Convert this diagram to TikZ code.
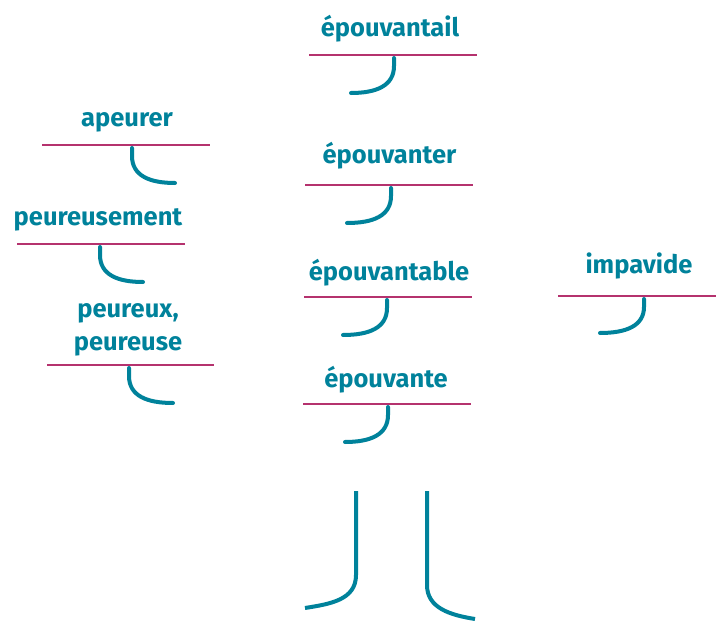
\documentclass[tikz,border=0pt]{standalone}
\usepackage{fontspec}
\setmainfont{Fira Sans}
\definecolor{teal}{RGB}{0,130,155}
\definecolor{mag}{RGB}{181,50,110}
\begin{document}
\begin{tikzpicture}[x=1pt,y=-1pt,
  word/.style={text=teal,font=\fontsize{25.5}{33}\selectfont\bfseries,inner sep=0pt,align=center,anchor=base},
  bar/.style={draw=mag,line width=2pt},
  hook/.style={draw=teal,line width=4pt,line cap=round}]
\useasboundingbox (0,0) rectangle (716,621);
% épouvantail
\node[word] (w1) at (390,36) {épouvantail};
\draw[bar] (309,55) -- (477,55);
\draw[hook] (394,58) -- (394,66) .. controls (394,86) and (376,93) .. (351,93);
% apeurer
\node[word] (w2) at (127,126) {apeurer};
\draw[bar] (42,145) -- (210,145);
\draw[hook] (132,148) -- (132,156) .. controls (132,176) and (150,183) .. (175,183);
% peureusement
\node[word] (w3) at (98,225) {peureusement};
\draw[bar] (17,244) -- (185,244);
\draw[hook] (100,247) -- (100,255) .. controls (100,275) and (118,282) .. (143,282);
% peureux, peureuse
\node[word] (w4) at (128,350) {peureux,\\peureuse};
\draw[bar] (47,365) -- (214,365);
\draw[hook] (129,368) -- (129,376) .. controls (129,396) and (147,403) .. (173,403);
% épouvanter
\node[word] (w5) at (389.5,163) {épouvanter};
\draw[bar] (305,185) -- (473,185);
\draw[hook] (391,188) -- (391,196) .. controls (391,216) and (373,223) .. (347,223);
% épouvantable
\node[word] (w6) at (389,280) {épouvantable};
\draw[bar] (304,297) -- (472,297);
\draw[hook] (387,300) -- (387,308) .. controls (387,328) and (369,335) .. (343,335);
% impavide
\node[word] (w7) at (639,273) {impavide};
\draw[bar] (558,296) -- (716,296);
\draw[hook] (644,299) -- (644,307) .. controls (644,326) and (626,333) .. (600,333);
% épouvante
\node[word] (w8) at (386,387) {épouvante};
\draw[bar] (303,404) -- (471,404);
\draw[hook] (388,407) -- (388,415) .. controls (388,435) and (370,442) .. (345,442);
% bottom
\coordinate (l1) at (356,491);
\coordinate (l2) at (305,608);
\coordinate (r1) at (427,491);
\coordinate (r2) at (475,619);
\draw[hook,line cap=butt] (l1) -- (356,575) .. controls (356,600) and (330,604) .. (l2);
\draw[hook,line cap=butt] (r1) -- (427,585) .. controls (427,608) and (450,615) .. (r2);
\end{tikzpicture}
\end{document}
